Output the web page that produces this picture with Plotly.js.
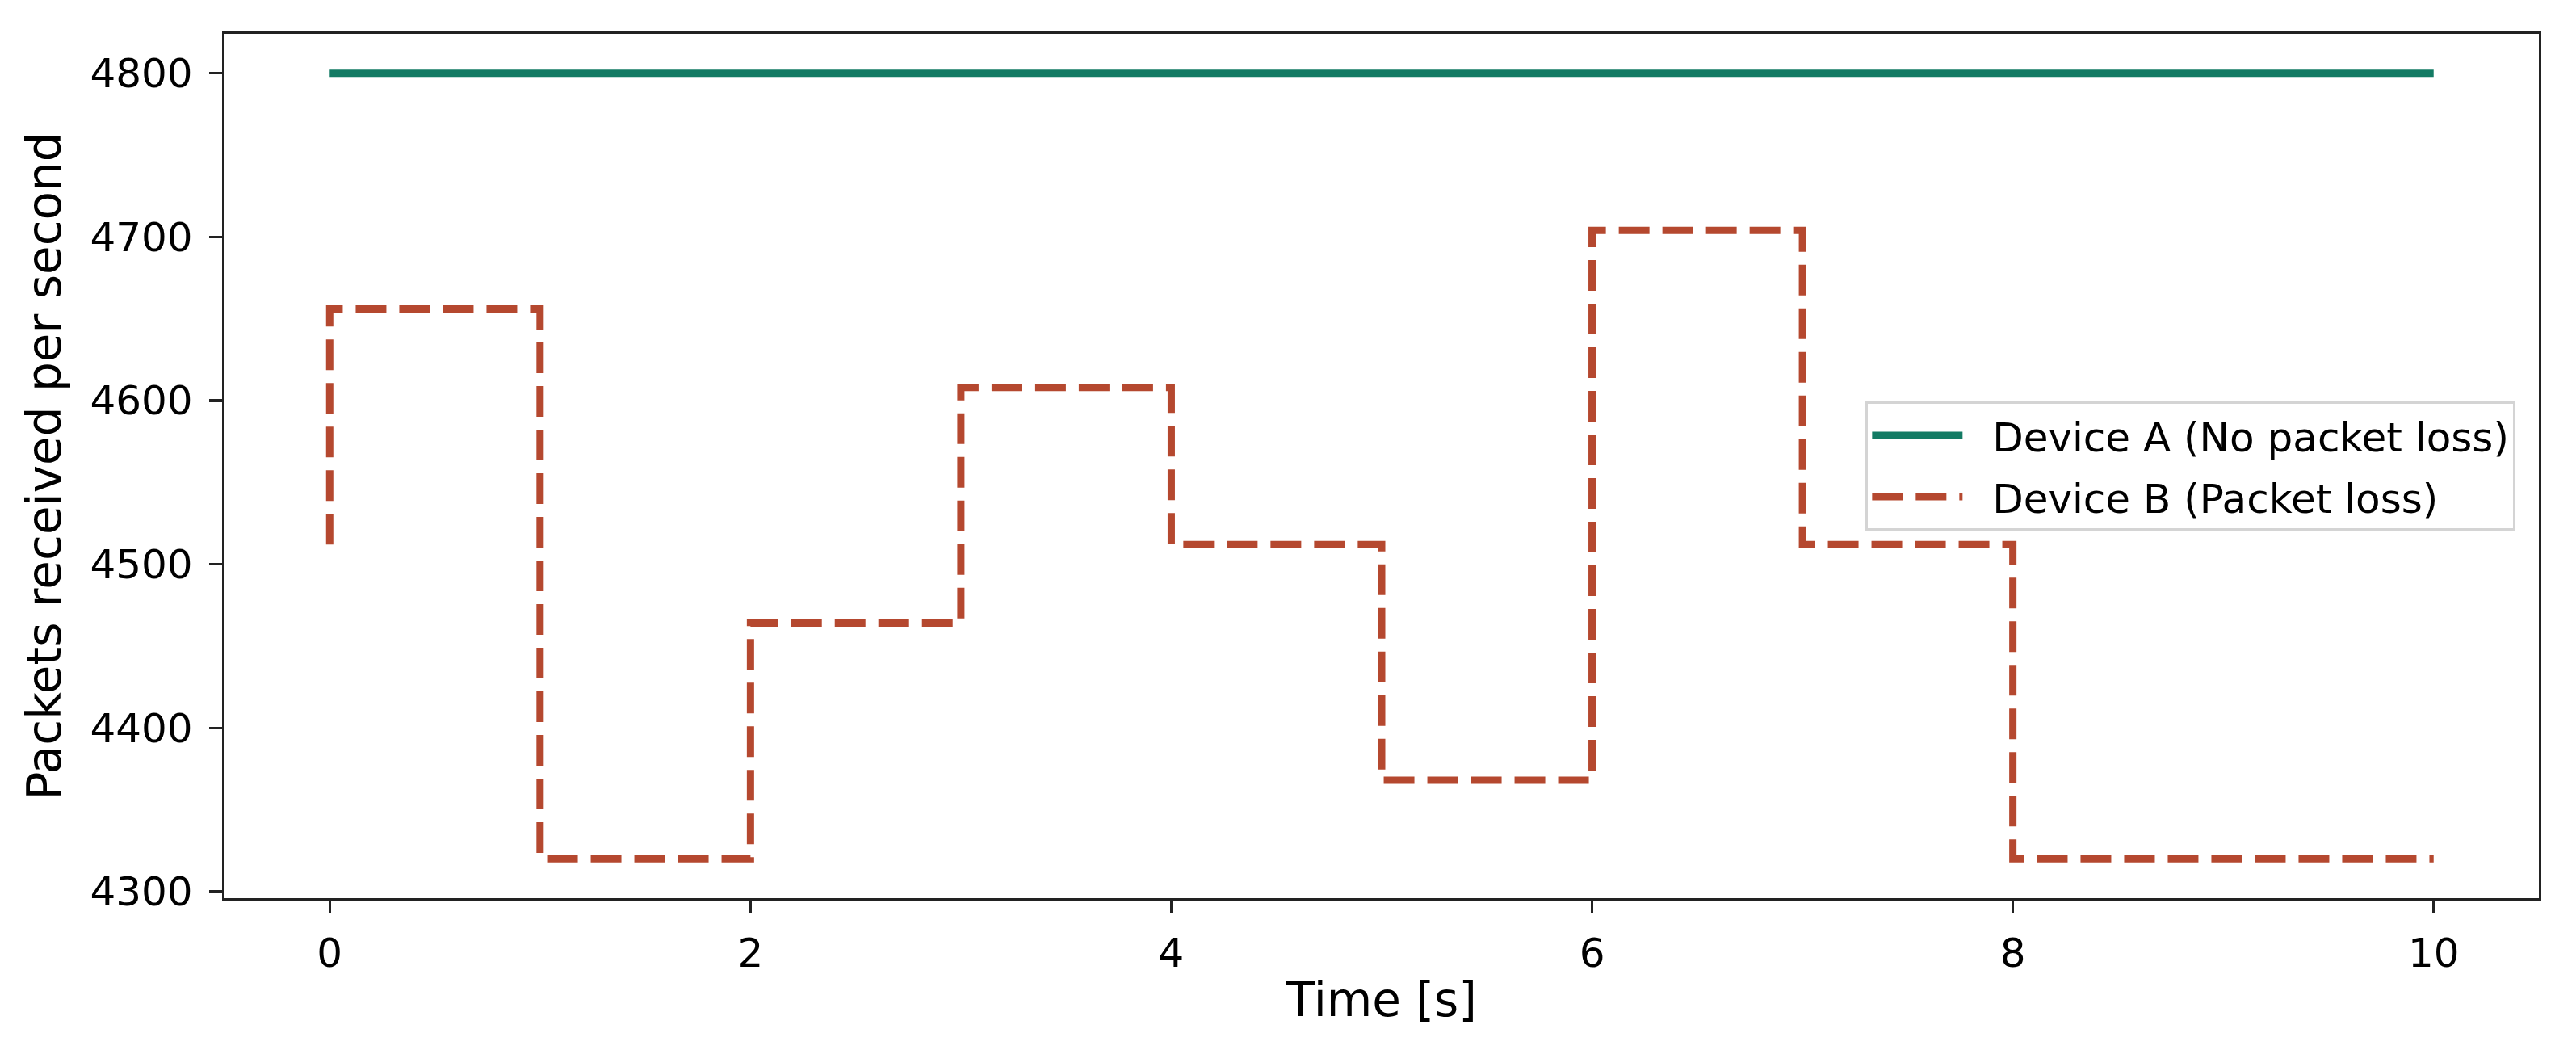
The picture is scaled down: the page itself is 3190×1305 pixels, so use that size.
<!DOCTYPE html>
<html>
<head>
<meta charset="utf-8">
<script src="https://cdn.plot.ly/plotly-3.0.1.min.js"></script>
<style>
  html, body { margin: 0; padding: 0; background: #fff; }
  #plotDiv { width: 3190px; height: 1305px; }
</style>
</head>
<body>
<div id="plotDiv"></div>
<script>
// time axis in seconds
const time = [0, 1, 2, 3, 4, 5, 6, 7, 8, 9, 10];
// packets received per second
const deviceA = [4800, 4800, 4800, 4800, 4800, 4800, 4800, 4800, 4800, 4800, 4800];
const deviceB = [4512, 4656, 4320, 4464, 4608, 4512, 4368, 4704, 4512, 4320, 4320];
const seriesNames = ["Device A (No packet loss)", "Device B (Packet loss)"];
const xTicks = [0, 2, 4, 6, 8, 10];
const yTicks = [4300, 4400, 4500, 4600, 4700, 4800];

const font = "DejaVu Sans, Verdana, sans-serif";
const pad = "\u00a0\u00a0"; // gap between legend sample and text

const traceA = {
  x: time,
  y: deviceA,
  type: "scatter",
  mode: "lines",
  name: pad + seriesNames[0],
  legendgroup: "a",
  line: { color: "#137b64", width: 9 },
};

// step plot, value changes at the start of each interval
const traceB = {
  x: time,
  y: deviceB,
  type: "scatter",
  mode: "lines",
  name: pad + seriesNames[1],
  legendgroup: "b",
  line: { color: "#b5482f", width: 9, dash: "38px,16px", shape: "vh" },
};

const axisStyle = {
  showline: true,
  mirror: true,
  linecolor: "#222",
  linewidth: 3.3,
  ticks: "outside",
  ticklen: 16,
  tickwidth: 3.3,
  tickcolor: "#222",
  showgrid: false,
  zeroline: false,
  tickfont: { family: font, size: 50, color: "#000" },
};

const layout = {
  width: 3190,
  height: 1305,
  margin: { l: 278, r: 46, t: 42, b: 193 },
  paper_bgcolor: "#fff",
  plot_bgcolor: "#fff",
  showlegend: true,
  xaxis: Object.assign({}, axisStyle, {
    range: [-0.5, 10.5],
    tickvals: xTicks,
    ticklabelstandoff: 6,
    title: { text: "Time [s]", font: { family: font, size: 58, color: "#000" }, standoff: 10 },
  }),
  yaxis: Object.assign({}, axisStyle, {
    range: [4296, 4824],
    tickvals: yTicks,
    ticklabelstandoff: 10,
    title: { text: "Packets received per second", font: { family: font, size: 58, color: "#000" }, standoff: 18 },
  }),
  legend: {
    x: 0.99,
    xanchor: "right",
    y: 0.5,
    yanchor: "middle",
    traceorder: "grouped",
    tracegroupgap: 8,
    bgcolor: "rgba(255,255,255,0.8)",
    bordercolor: "#d4d4d4",
    borderwidth: 3,
    itemwidth: 112,
    font: { family: font, size: 50, color: "#000" },
  },
};

Plotly.newPlot("plotDiv", [traceA, traceB], layout, { staticPlot: true });
</script>
</body>
</html>
